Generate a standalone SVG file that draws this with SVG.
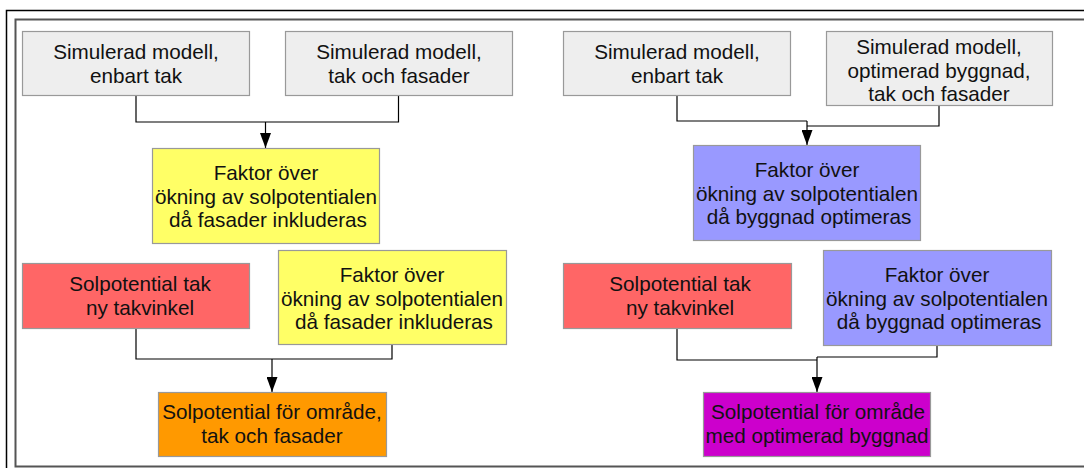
<svg xmlns="http://www.w3.org/2000/svg" width="1084" height="468" viewBox="0 0 1084 468">
  <defs>
    <marker id="ah" viewBox="0 0 15 11" refX="15" refY="5.5" markerWidth="15" markerHeight="11" markerUnits="userSpaceOnUse" orient="auto">
      <path d="M0,0 L15,5.5 L0,11 Z" fill="#000"/>
    </marker>
  </defs>
  <style>
    .box { stroke: #999999; stroke-width: 1.2; }
    .gray { fill: #eeeeee; }
    .yellow { fill: #ffff66; }
    .red { fill: #ff6666; }
    .orange { fill: #ff9900; }
    .blue { fill: #9999ff; }
    .magenta { fill: #cc00cc; }
    text { font-family: "Liberation Sans", Arial, sans-serif; font-size: 20.7px; fill: #111; text-anchor: middle; }
    .conn { fill: none; stroke: #000; stroke-width: 1.2; }
  </style>
  <rect width="1084" height="468" fill="#ffffff"/>
  <path d="M1084,10.5 H6.5 V468" fill="none" stroke="#000" stroke-width="1.5"/>
  <path d="M1084,19.5 H15.5 V466.5 H1084" fill="none" stroke="#555" stroke-width="2"/>

  <g id="connectors">
    <path class="conn" d="M136,95 V122 H398.5 V95"/>
    <path class="conn" d="M265.5,122 V148" marker-end="url(#ah)"/>
    <path class="conn" d="M677,95 V121 H807"/>
    <path class="conn" d="M939,105 V126 H807"/>
    <path class="conn" d="M807,121 V145" marker-end="url(#ah)"/>
    <path class="conn" d="M136,328 V359 H392 V344"/>
    <path class="conn" d="M272,359 V392" marker-end="url(#ah)"/>
    <path class="conn" d="M677,328 V360 H817"/>
    <path class="conn" d="M937,345 V357 H817"/>
    <path class="conn" d="M817,357 V392" marker-end="url(#ah)"/>
  </g>

  <g id="n1">
    <rect class="box gray" x="22.5" y="31.5" width="227" height="64"/>
    <text x="136" y="59">Simulerad modell,</text>
    <text x="136" y="82.5">enbart tak</text>
  </g>
  <g id="n2">
    <rect class="box gray" x="285.5" y="31.5" width="227" height="64"/>
    <text x="399" y="59">Simulerad modell,</text>
    <text x="399" y="82.5">tak och fasader</text>
  </g>
  <g id="n3">
    <rect class="box yellow" x="152.5" y="148.5" width="227" height="95"/>
    <text x="266" y="180">Faktor över</text>
    <text x="266" y="203.5">ökning av solpotentialen</text>
    <text x="268" y="227">då fasader inkluderas</text>
  </g>
  <g id="n4">
    <rect class="box red" x="22.5" y="263.5" width="227" height="65"/>
    <text x="140" y="291">Solpotential tak</text>
    <text x="140" y="314.5">ny takvinkel</text>
  </g>
  <g id="n5">
    <rect class="box yellow" x="278.5" y="250.5" width="228" height="94"/>
    <text x="392" y="282">Faktor över</text>
    <text x="392" y="305.5">ökning av solpotentialen</text>
    <text x="394" y="329">då fasader inkluderas</text>
  </g>
  <g id="n6">
    <rect class="box orange" x="158.5" y="392.5" width="228" height="64"/>
    <text x="272" y="419">Solpotential för område,</text>
    <text x="272" y="442.5">tak och fasader</text>
  </g>

  <g id="n7">
    <rect class="box gray" x="563.5" y="31.5" width="227" height="64"/>
    <text x="677" y="59">Simulerad modell,</text>
    <text x="677" y="82.5">enbart tak</text>
  </g>
  <g id="n8">
    <rect class="box gray" x="826.5" y="31.5" width="226" height="74"/>
    <text x="939" y="54">Simulerad modell,</text>
    <text x="939" y="77.5">optimerad byggnad,</text>
    <text x="939" y="101">tak och fasader</text>
  </g>
  <g id="n9">
    <rect class="box blue" x="693.5" y="145.5" width="227" height="95"/>
    <text x="807" y="177">Faktor över</text>
    <text x="807" y="200.5">ökning av solpotentialen</text>
    <text x="809" y="224">då byggnad optimeras</text>
  </g>
  <g id="n10">
    <rect class="box red" x="563.5" y="263.5" width="228" height="65"/>
    <text x="680" y="291">Solpotential tak</text>
    <text x="680" y="314.5">ny takvinkel</text>
  </g>
  <g id="n11">
    <rect class="box blue" x="823.5" y="250.5" width="228" height="95"/>
    <text x="937" y="282">Faktor över</text>
    <text x="937" y="305.5">ökning av solpotentialen</text>
    <text x="939" y="329">då byggnad optimeras</text>
  </g>
  <g id="n12">
    <rect class="box magenta" x="703.5" y="392.5" width="227" height="64"/>
    <text x="818" y="419">Solpotential för område</text>
    <text x="817" y="442.5">med optimerad byggnad</text>
  </g>
</svg>
